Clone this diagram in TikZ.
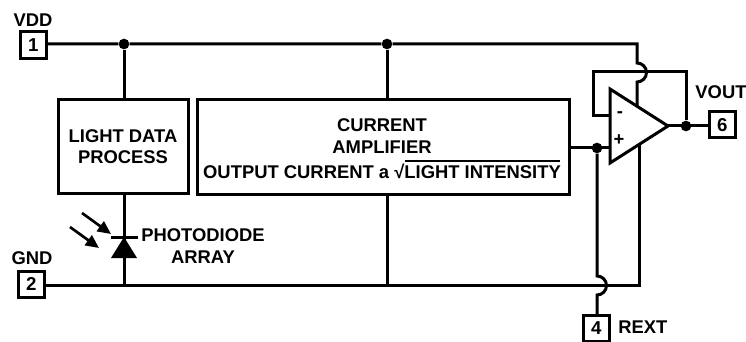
\documentclass[tikz,border=0pt]{standalone}
\usepackage{fontspec}
\setmainfont{Liberation Sans}
\usetikzlibrary{arrows.meta}
\tikzset{
 wire/.style={line width=2.25pt,line join=miter},
 block/.style={draw,line width=2.25pt,fill=white,inner sep=0pt,outer sep=0pt,anchor=north west},
 pinbox/.style={draw,line width=2.25pt,fill=white,inner sep=0pt,outer sep=0pt,anchor=north west,font=\fontsize{14}{14}\selectfont\bfseries},
 lbl/.style={font=\fontsize{13.8}{14}\selectfont\bfseries,inner sep=0pt,align=center},
 dotj/.style={circle,fill=black,inner sep=0pt,minimum size=8pt},
 ray/.style={line width=2pt,-{Triangle[length=10pt,width=9pt]}}
}
\begin{document}
\begin{tikzpicture}[x=0.75pt,y=-0.75pt]
\useasboundingbox (0,0) rectangle (746,342);
% pins
\node[pinbox,minimum width=20pt,minimum height=20pt] (p1) at (20,32) {1};
\node[pinbox,minimum width=20pt,minimum height=20pt] (p2) at (18,271) {2};
\node[pinbox,minimum width=20pt,minimum height=19.5pt] (p4) at (583,315) {4};
\node[pinbox,minimum width=20pt,minimum height=19.5pt] (p6) at (709,112) {6};
% blocks
\node[block,minimum width=97.5pt,minimum height=70.5pt] (ld) at (58,100) {};
\node[block,minimum width=279pt,minimum height=71pt] (ca) at (197,100) {};
% coordinates
\coordinate (j1t) at (124,44);
\coordinate (j2t) at (387,44);
\coordinate (j1b) at (124,285);
\coordinate (j2b) at (387,285);
\coordinate (ldt) at (124,100);
\coordinate (ldb) at (124,194);
\coordinate (cat) at (387,100);
\coordinate (cab) at (387,195);
\coordinate (barL) at (111,237);
\coordinate (barR) at (138,237);
\coordinate (dk) at (124,237);
\coordinate (triA) at (610,89);
\coordinate (triB) at (610,163);
\coordinate (triC) at (668,126);
\coordinate (sup1) at (637,44);
\coordinate (hop1a) at (637,63);
\coordinate (sup2) at (637,107);
\coordinate (fb1) at (686,72);
\coordinate (fb2) at (593,72);
\coordinate (fb3) at (593,116);
\coordinate (inm) at (610,116);
\coordinate (inp) at (610,148);
\coordinate (cao) at (569,148);
\coordinate (hop2a) at (597,276);
\coordinate (p4t) at (597,315);
\coordinate (gnd1) at (639,145);
\coordinate (gnd2) at (639,285);
\coordinate (r1a) at (82,213);
\coordinate (r1b) at (111,234);
\coordinate (r2a) at (70,227);
\coordinate (r2b) at (99,248);
\coordinate (ovA) at (405,161);
\coordinate (ovB) at (560,161);
% junctions
\node[dotj] (d1) at (j1t) {};
\node[dotj] (d2) at (j2t) {};
\node[dotj] (d3) at (597,148) {};
\node[dotj] (d4) at (686,126) {};
% wires
\draw[wire] (p1.east |- j1t) -- (d1) -- (d2) -- (sup1) -- (hop1a) arc[start angle=-90,end angle=90,radius=9.5] -- (sup2);
\draw[wire] (d1) -- (ldt);
\draw[wire] (d2) -- (cat);
\draw[wire] (ldb) -- (j1b);
\draw[wire] (cab) -- (j2b);
\draw[wire] (p2.east |- j1b) -- (j1b) -- (j2b) -- (gnd2) -- (gnd1);
\draw[wire] (cao) -- (inp);
\draw[wire] (d3) -- (hop2a) arc[start angle=-90,end angle=90,radius=9.5] -- (p4t);
\draw[wire] (d4) -- (fb1) -- (fb2) -- (fb3) -- (inm);
\draw[wire] (triC) -- (p6.west |- triC);
\draw[wire,fill=white] (triA) -- (triC) -- (triB) -- cycle;
% diode
\draw[wire] (barL) -- (barR);
\fill (dk) -- (137,258) -- (111,258) -- cycle;
\draw[ray] (r1a) -- (r1b);
\draw[ray] (r2a) -- (r2b);
% text
\node[lbl] (tvdd) at (33,20) {VDD};
\node[lbl] (tgnd) at (32,258) {GND};
\node[lbl] (tvout) at (721,92) {VOUT};
\node[lbl,anchor=west] (trext) at (618,327) {REXT};
\node[lbl] (tpd) at (203,235) {PHOTODIODE};
\node[lbl] (tarr) at (203,257) {ARRAY};
\node[lbl] (tld) at (123,136) {LIGHT DATA};
\node[lbl] (tpr) at (123,157) {PROCESS};
\node[lbl] (tcu) at (382,125) {CURRENT};
\node[lbl] (tam) at (382,147) {AMPLIFIER};
\node[lbl] (tou) at (382,171) {OUTPUT CURRENT a √LIGHT INTENSITY};
\node[lbl] (tm) at (620,115) {-};
\node[lbl] (tp) at (619,140) {+};
\draw[line width=0.9pt] (ovA) -- (ovB);
\end{tikzpicture}
\end{document}
